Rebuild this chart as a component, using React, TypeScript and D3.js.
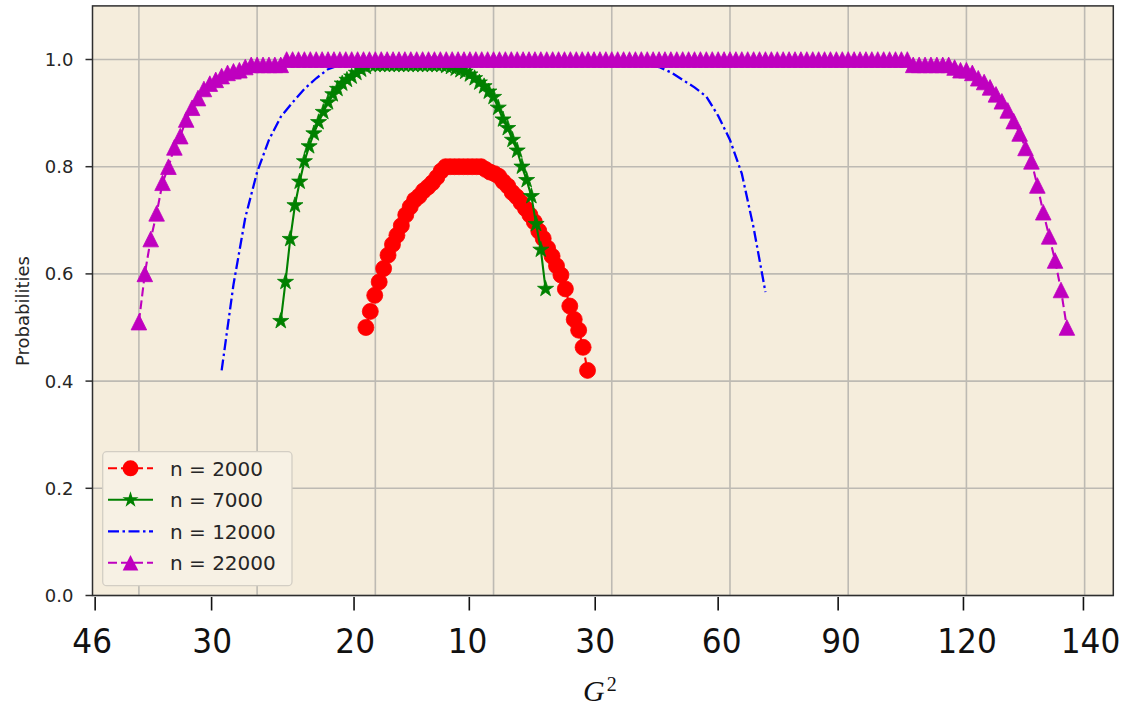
import React, { useRef, useEffect } from 'react';
import * as d3 from 'd3';

// legend / series names
const seriesNames = ['n = 2000', 'n = 7000', 'n = 12000', 'n = 22000'];

// y axis ticks and grid positions (data units)
const yTicks = [0, 0.2, 0.4, 0.6, 0.8, 1.0];
const yTickLabels = ['0.0', '0.2', '0.4', '0.6', '0.8', '1.0'];
const gridX = [0, 20, 40, 60, 80, 100, 120, 140, 160];

// the relabelled bottom axis (tick values in x data units)
const bottomTickValues = [-7.4, 12.3, 36.4, 55.9, 77.2, 98.0, 118.3, 139.5, 159.8];
const bottomLabelValues = [-7.9, 12.4, 36.6, 55.6, 77.2, 98.6, 118.8, 140.1, 161.0];
const bottomTickLabels = ['46', '30', '20', '10', '30', '60', '90', '120', '140'];

// x grid of each series: start and step
const xStart = [38.4, 24, 14, 0];
const xStep = [0.75, 0.8, 2, 1];

const probN2000 = [
  0.50, 0.53, 0.56, 0.585, 0.61, 0.635, 0.655, 0.672, 0.69, 0.71,
  0.725, 0.738, 0.745, 0.755, 0.762, 0.77, 0.78, 0.792, 0.80, 0.80,
  0.80, 0.80, 0.80, 0.80, 0.80, 0.80, 0.80, 0.795, 0.79, 0.787,
  0.782, 0.772, 0.764, 0.752, 0.744, 0.733, 0.722, 0.71, 0.697, 0.68,
  0.666, 0.648, 0.633, 0.615, 0.598, 0.572, 0.54, 0.515, 0.495, 0.463,
  0.42,
];

const probN7000 = [
  0.512, 0.585, 0.665, 0.728, 0.772, 0.81, 0.838, 0.862, 0.883, 0.902,
  0.92, 0.935, 0.945, 0.955, 0.962, 0.968, 0.975, 0.981, 0.986, 0.99,
  0.99, 0.99, 0.99, 0.99, 0.99, 0.99, 0.99, 0.99, 0.99, 0.99,
  0.99, 0.99, 0.99, 0.99, 0.99, 0.988, 0.986, 0.983, 0.98, 0.977,
  0.972, 0.965, 0.957, 0.95, 0.94, 0.93, 0.91, 0.888, 0.872, 0.85,
  0.83, 0.80, 0.775, 0.745, 0.693, 0.645, 0.572,
];

const probN12000 = [
  0.42, 0.58, 0.705, 0.79, 0.85, 0.893, 0.92, 0.945, 0.965, 0.982,
  0.99, 0.99, 0.99, 0.99, 0.99, 0.99, 0.99, 0.99, 0.99, 0.99,
  0.99, 0.99, 0.99, 0.99, 0.99, 0.99, 0.99, 0.99, 0.99, 0.99,
  0.99, 0.99, 0.99, 0.99, 0.99, 0.99, 0.99, 0.986, 0.976, 0.962,
  0.948, 0.931, 0.895, 0.85, 0.787, 0.686, 0.566,
];

const probN22000 = [
  0.51, 0.60, 0.665, 0.713, 0.77, 0.80, 0.836, 0.857, 0.888, 0.91,
  0.928, 0.945, 0.955, 0.962, 0.969, 0.975, 0.978, 0.98, 0.986, 0.99,
  0.99, 0.99, 0.99, 0.99, 0.99,
  1, 1, 1, 1, 1, 1, 1, 1, 1, 1,
  1, 1, 1, 1, 1, 1, 1, 1, 1, 1,
  1, 1, 1, 1, 1, 1, 1, 1, 1, 1,
  1, 1, 1, 1, 1, 1, 1, 1, 1, 1,
  1, 1, 1, 1, 1, 1, 1, 1, 1, 1,
  1, 1, 1, 1, 1, 1, 1, 1, 1, 1,
  1, 1, 1, 1, 1, 1, 1, 1, 1, 1,
  1, 1, 1, 1, 1, 1, 1, 1, 1, 1,
  1, 1, 1, 1, 1, 1, 1, 1, 1, 1,
  1, 1, 1, 1, 1, 1, 1, 1, 1, 1,
  1, 1, 1, 1, 1, 1,
  0.99, 0.99, 0.99, 0.99, 0.99, 0.99, 0.99,
  0.985, 0.98, 0.98, 0.975, 0.965, 0.958, 0.948, 0.935, 0.922, 0.905,
  0.885, 0.862, 0.835, 0.81, 0.765, 0.715, 0.67, 0.625, 0.57, 0.50,
];

const seriesValues = [probN2000, probN7000, probN12000, probN22000];
const colors = ['#ff0000', '#008000', '#0000ff', '#bf00bf'];
const dashes = ['9,4', null, '11,3.5,2.5,3.5', '9,4'];
const markers = ['circle', 'star', null, 'triangle'];

const markerPath = (m) => {
  if (m === 'circle') return d3.symbol(d3.symbolCircle, Math.PI * 8 * 8)();
  if (m === 'star') return d3.symbol(d3.symbolStar, 80)();
  const h = 7.8;
  return `M0,${-h}L${h},${h}L${-h},${h}Z`;
};

const Chart = ({ width = 1129, height = 707 }) => {
  const svgRef = useRef(null);

  useEffect(() => {
    const svg = d3.select(svgRef.current)
      .attr('width', width)
      .attr('height', height);
    svg.selectAll('*').remove();

    const left = 92.5, right = 1113.3, top = 5.9, bottom = 595.5;
    const xMax = 157;

    const x = d3.scaleLinear().domain([-0.05 * xMax, 1.05 * xMax]).range([left, right]);
    const y = d3.scaleLinear().domain([0, 1.1]).range([bottom, top]);

    svg.append('rect').attr('width', width).attr('height', height).attr('fill', '#ffffff');
    svg.append('rect')
      .attr('x', left).attr('y', top)
      .attr('width', right - left).attr('height', bottom - top)
      .attr('fill', '#f5eddc');

    svg.append('clipPath').attr('id', 'plot-clip')
      .append('rect')
      .attr('x', left).attr('y', top)
      .attr('width', right - left).attr('height', bottom - top);

    // grid
    const grid = svg.append('g').attr('stroke', '#bdbab3').attr('stroke-width', 1.6);
    gridX.forEach(v => grid.append('line')
      .attr('x1', x(v)).attr('x2', x(v)).attr('y1', top).attr('y2', bottom));
    yTicks.forEach(v => grid.append('line')
      .attr('x1', left).attr('x2', right).attr('y1', y(v)).attr('y2', y(v)));

    // series
    const plot = svg.append('g').attr('clip-path', 'url(#plot-clip)');
    seriesValues.forEach((vals, k) => {
      const pts = vals.map((v, i) => [xStart[k] + i * xStep[k], v]);
      const line = d3.line().x(d => x(d[0])).y(d => y(d[1]));
      const p = plot.append('path')
        .attr('d', line(pts))
        .attr('fill', 'none')
        .attr('stroke', colors[k])
        .attr('stroke-width', k === 2 ? 2.3 : 2.1);
      if (dashes[k]) p.attr('stroke-dasharray', dashes[k]);
      if (markers[k]) {
        plot.append('g')
          .selectAll('path')
          .data(pts)
          .join('path')
          .attr('transform', d => `translate(${x(d[0])},${y(d[1])})`)
          .attr('d', markerPath(markers[k]))
          .attr('fill', colors[k])
          .attr('stroke', colors[k])
          .attr('stroke-width', 0.8);
      }
    });

    // spines
    svg.append('rect')
      .attr('x', left).attr('y', top)
      .attr('width', right - left).attr('height', bottom - top)
      .attr('fill', 'none').attr('stroke', '#2e2e2e').attr('stroke-width', 1.5);

    // y axis
    const yAxis = svg.append('g');
    yTicks.forEach((v, i) => {
      yAxis.append('line')
        .attr('x1', left - 7).attr('x2', left)
        .attr('y1', y(v)).attr('y2', y(v))
        .attr('stroke', '#2e2e2e').attr('stroke-width', 1.5);
      yAxis.append('text')
        .attr('x', left - 19).attr('y', y(v))
        .attr('dy', '0.36em')
        .attr('text-anchor', 'end')
        .attr('font-family', 'DejaVu Sans')
        .attr('font-size', 18)
        .attr('fill', '#262626')
        .text(yTickLabels[i]);
    });
    svg.append('text')
      .attr('transform', 'translate(29,311) rotate(-90)')
      .attr('text-anchor', 'middle')
      .attr('font-family', 'DejaVu Sans')
      .attr('font-size', 18)
      .attr('fill', '#262626')
      .text('Probabilities');

    // bottom relabelled axis
    const xAxis = svg.append('g');
    bottomTickValues.forEach((v) => {
      xAxis.append('line')
        .attr('x1', x(v)).attr('x2', x(v))
        .attr('y1', bottom + 1.5).attr('y2', bottom + 15)
        .attr('stroke', '#111').attr('stroke-width', 1.6);
    });
    bottomLabelValues.forEach((v, i) => {
      xAxis.append('text')
        .attr('transform', `translate(${x(v)},653) scale(0.92,1)`)
        .attr('text-anchor', 'middle')
        .attr('font-family', 'DejaVu Sans')
        .attr('font-size', 34)
        .attr('fill', '#111')
        .text(bottomTickLabels[i]);
    });
    const g2 = svg.append('text')
      .attr('x', 583).attr('y', 701)
      .attr('font-family', 'Liberation Serif')
      .attr('font-size', 30)
      .attr('font-style', 'italic')
      .attr('fill', '#111')
      .text('G');
    g2.append('tspan')
      .attr('font-style', 'normal')
      .attr('font-size', 20)
      .attr('dy', -10)
      .attr('dx', 2)
      .text('2');

    // legend
    const lg = svg.append('g');
    lg.append('rect')
      .attr('x', 102.7).attr('y', 451.7)
      .attr('width', 189.3).attr('height', 134)
      .attr('rx', 4)
      .attr('fill', '#f7f1e4')
      .attr('stroke', '#d3cec4')
      .attr('stroke-width', 1.3);
    seriesNames.forEach((name, k) => {
      const cy = 468.3 + k * 31.5;
      const l = lg.append('line')
        .attr('x1', 108).attr('x2', 153)
        .attr('y1', cy).attr('y2', cy)
        .attr('stroke', colors[k])
        .attr('stroke-width', k === 2 ? 2.3 : 2.1);
      if (dashes[k]) l.attr('stroke-dasharray', dashes[k]);
      if (markers[k]) {
        lg.append('path')
          .attr('transform', `translate(130.5,${cy})`)
          .attr('d', markerPath(markers[k]))
          .attr('fill', colors[k]);
      }
      lg.append('text')
        .attr('x', 170).attr('y', cy)
        .attr('dy', '0.36em')
        .attr('font-family', 'DejaVu Sans')
        .attr('font-size', 20)
        .attr('fill', '#262626')
        .text(name);
    });
  }, [width, height]);

  return <svg ref={svgRef} style={{ position: 'absolute', left: 0, top: 0 }}></svg>;
};

export default function App() {
  return <Chart />;
}
